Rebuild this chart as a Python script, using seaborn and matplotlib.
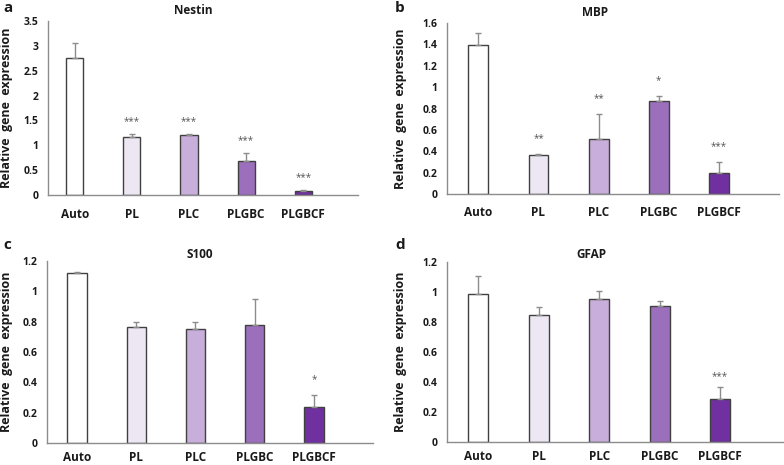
import numpy as np
import matplotlib
matplotlib.use("Agg")
import matplotlib.pyplot as plt
import seaborn as sns

# ── data ─────────────────────────────────────
groups = ["Auto", "PL", "PLC", "PLGBC", "PLGBCF"]

nestin_mean = [2.76, 1.16, 1.21, 0.69, 0.075]
nestin_err = [0.30, 0.06, 0.01, 0.15, 0.02]
nestin_sig = ["", "***", "***", "***", "***"]

mbp_mean = [1.39, 0.365, 0.51, 0.867, 0.20]
mbp_err = [0.12, 0.012, 0.24, 0.047, 0.096]
mbp_sig = ["", "**", "**", "*", "***"]

s100_mean = [1.118, 0.763, 0.75, 0.779, 0.238]
s100_err = [0.007, 0.037, 0.05, 0.17, 0.08]
s100_sig = ["", "", "", "", "*"]

gfap_mean = [0.984, 0.844, 0.956, 0.907, 0.284]
gfap_err = [0.12, 0.058, 0.048, 0.035, 0.08]
gfap_sig = ["", "", "", "", "***"]

# ── style ────────────────────────────────────
sns.set_theme(style="white")
plt.rcParams["font.family"] = ["Open Sans", "DejaVu Sans"]

BAR_COLORS = ["#FFFFFF", "#EDE7F3", "#C8AEDB", "#9B6FBC", "#7030A0"]
EDGE = "#404040"
AXIS = "#8C8C8C"
ERR = "#8C8C8C"


def panel(fig, rect, mean, err, sig, title, title_xy, letter, letter_xy,
          ymax, ystep, xlim, width, ylab_x, star_off, xpad=9):
    ax = fig.add_axes(rect)
    sns.barplot(x=groups, y=mean, hue=groups, palette=BAR_COLORS,
                legend=False, width=width, edgecolor=EDGE, linewidth=1.0,
                saturation=1, ax=ax)
    xs = np.arange(len(groups))
    ax.errorbar(xs, mean, yerr=[np.zeros(len(err)), err], fmt="none",
                ecolor=ERR, elinewidth=1.0, capsize=2.2, capthick=1.0)
    for x, m, e, s in zip(xs, mean, err, sig):
        if s:
            ax.annotate(s, (x, m + e), textcoords="offset points",
                        xytext=(0, star_off), ha="center", va="center",
                        fontsize=7, color="#555555")
    ax.set_ylim(0, ymax)
    ax.set_xlim(*xlim)
    ax.set_yticks(np.arange(0, ymax + 1e-9, ystep))
    ax.yaxis.set_major_formatter(plt.FuncFormatter(lambda v, _: f"{v:g}"))
    ax.tick_params(axis="y", length=0, pad=7, labelsize=7.5)
    ax.tick_params(axis="x", length=0, pad=xpad, labelsize=8.5)
    for lab in ax.get_xticklabels() + ax.get_yticklabels():
        lab.set_fontweight("bold")
        lab.set_color("#1A1A1A")
    for side in ["top", "right"]:
        ax.spines[side].set_visible(False)
    for side in ["left", "bottom"]:
        ax.spines[side].set_color(AXIS)
        ax.spines[side].set_linewidth(1.0)
    ax.set_xlabel("")
    ax.set_ylabel("Relative  gene  expression", fontsize=9,
                  fontweight="bold", color="#1A1A1A")
    ax.yaxis.set_label_coords(ylab_x, 0.5)
    ax.text(title_xy[0], title_xy[1], title, transform=ax.transAxes,
            ha="center", va="center", fontsize=8.5, fontweight="bold",
            color="#1A1A1A")
    fig.text(letter_xy[0] / 784, 1 - letter_xy[1] / 465, letter,
             ha="left", va="center", fontsize=11, fontweight="bold",
             color="#1A1A1A")
    return ax


fig = plt.figure(figsize=(7.84, 4.65), dpi=100)

panel(fig, [0.0612, 0.5806, 0.3954, 0.3742], nestin_mean, nestin_err,
      nestin_sig, "Nestin", (0.468, 1.063), "a", (3, 8),
      3.5, 0.5, (-0.47, 4.96), 0.30, -0.112, 9)
panel(fig, [0.5702, 0.5828, 0.4235, 0.3677], mbp_mean, mbp_err,
      mbp_sig, "MBP", (0.446, 1.064), "b", (395, 8),
      1.6, 0.2, (-0.52, 5.0), 0.33, -0.122, 11)
panel(fig, [0.0599, 0.0473, 0.4158, 0.3914], s100_mean, s100_err,
      s100_sig, "S100", (0.469, 1.033), "c", (3, 245),
      1.2, 0.2, (-0.51, 5.0), 0.33, -0.105, 11, xpad=6)
panel(fig, [0.5702, 0.0495, 0.4298, 0.3871], gfap_mean, gfap_err,
      gfap_sig, "GFAP", (0.43, 1.044), "d", (395, 245),
      1.2, 0.2, (-0.52, 5.06), 0.33, -0.12, 8, xpad=6)

fig.savefig("out.png", dpi=100, facecolor="white")
